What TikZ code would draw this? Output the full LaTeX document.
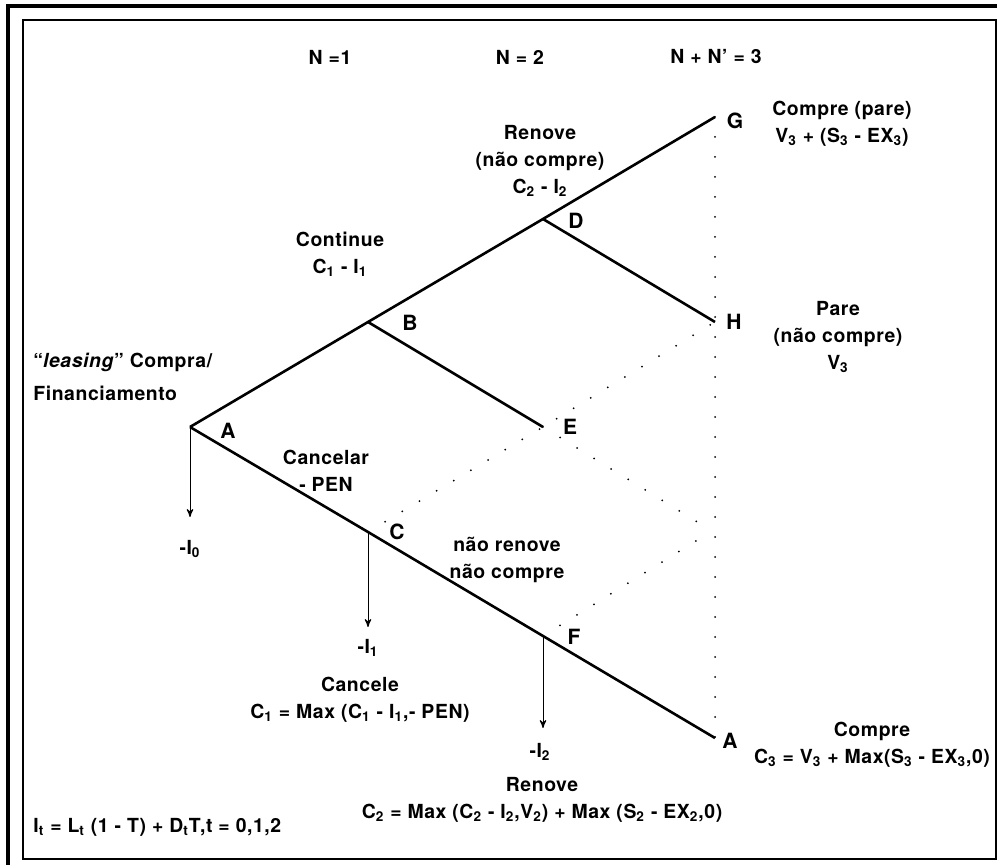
\documentclass[tikz,border=0pt]{standalone}
\usepackage{fontspec}
\setmainfont[LetterSpace=3]{TeX Gyre Heros}
\usepackage{tikz}
\usetikzlibrary{arrows}

\newcommand{\sbs}[1]{\textsubscript{#1}}

\begin{document}
\begin{tikzpicture}[x=0.5pt,y=-0.5pt,>=stealth',
        txt/.style={font=\fontsize{9.7}{13.5}\selectfont\bfseries,align=center,inner sep=0pt},
        pt/.style={font=\fontsize{10.5}{12}\selectfont\bfseries,inner sep=0pt},
        branch/.style={line width=1.3pt},
        dots/.style={line width=1pt,line cap=round,dash pattern=on 0pt off 10pt},
        drop/.style={->,line width=0.5pt}]

  \useasboundingbox (0,0) rectangle (997,865);
  \draw[line width=1.6pt] (8,865) -- (8,6) -- (997,6);
  \draw[line width=0.6pt] (23,20) rectangle (996,859);

  % tree points
  \coordinate (A)  at (190,427);
  \coordinate (B)  at (368,322);
  \coordinate (D)  at (543,219);
  \coordinate (G)  at (715,117);
  \coordinate (H)  at (715,322);
  \coordinate (E)  at (543,427);
  \coordinate (C)  at (368,532);
  \coordinate (F)  at (543,636);
  \coordinate (A2) at (715,738);
  \coordinate (M)  at (712,531);
  \coordinate (a0) at (190,517);
  \coordinate (c0) at (368,627);
  \coordinate (f0) at (543,728);

  \draw[branch] (A) -- (B) -- (D) -- (G);
  \draw[branch] (B) -- (E);
  \draw[branch] (D) -- (H);
  \draw[branch] (A) -- (C) -- (F) -- (A2);

  \draw[dots] (C) -- (E) -- (H);
  \draw[dots] (E) -- (M);
  \draw[dots] (F) -- (M);
  \draw[dots] (G) -- (A2);

  \draw[drop] (A) -- (a0);
  \draw[drop] (C) -- (c0);
  \draw[drop] (F) -- (f0);

  % point labels
  \node[pt] (lA)  at (228,431) {A};
  \node[pt] (lB)  at (410,323) {B};
  \node[pt] (lD)  at (576,221) {D};
  \node[pt] (lG)  at (735,121) {G};
  \node[pt] (lH)  at (734,322) {H};
  \node[pt] (lE)  at (570,427) {E};
  \node[pt] (lC)  at (397,532) {C};
  \node[pt] (lF)  at (574,637) {F};
  \node[pt] (lA2) at (730,741) {A};

  % stages
  \node[txt] (n1) at (330,57) {N =1};
  \node[txt] (n2) at (520,57) {N = 2};
  \node[txt] (n3) at (716,57) {N + N’ = 3};

  % branch texts
  \node[txt] (renove)   at (540,161) {Renove\\(não compre)\\C\sbs{2} - I\sbs{2}};
  \node[txt] (continue) at (340,254) {Continue\\C\sbs{1} - I\sbs{1}};
  \node[txt,anchor=west,align=left,font=\fontsize{9.7}{16.5}\selectfont\bfseries]
        (leasing) at (33,377) {“\textit{leasing}” Compra/\\Financiamento};
  \node[txt] (cancelar) at (326,471) {Cancelar\\- PEN};
  \node[txt] (naorenove) at (507,560) {não renove\\não compre};

  % outcomes
  \node[txt] (comprepare) at (842,124) {Compre (pare)\\V\sbs{3} + (S\sbs{3} - EX\sbs{3})};
  \node[txt] (pare)   at (838,337) {Pare\\(não compre)\\V\sbs{3}};
  \node[txt] (compre) at (872,745) {Compre\\C\sbs{3} = V\sbs{3} + Max(S\sbs{3} - EX\sbs{3},0)};

  % cash flows
  \node[txt] (I0) at (190,549) {-I\sbs{0}};
  \node[txt] (I1) at (368,648) {-I\sbs{1}};
  \node[txt] (I2) at (540,752) {-I\sbs{2}};
  \node[txt] (cancele) at (360,700) {Cancele\\C\sbs{1} = Max (C\sbs{1} - I\sbs{1},- PEN)};
  \node[txt] (renove2) at (542,800) {Renove\\C\sbs{2} = Max (C\sbs{2} - I\sbs{2},V\sbs{2}) + Max (S\sbs{2} - EX\sbs{2},0)};
  \node[txt,anchor=west] (formula) at (33,827) {I\sbs{t} = L\sbs{t} (1 - T) + D\sbs{t}T,t = 0,1,2};

\end{tikzpicture}
\end{document}
